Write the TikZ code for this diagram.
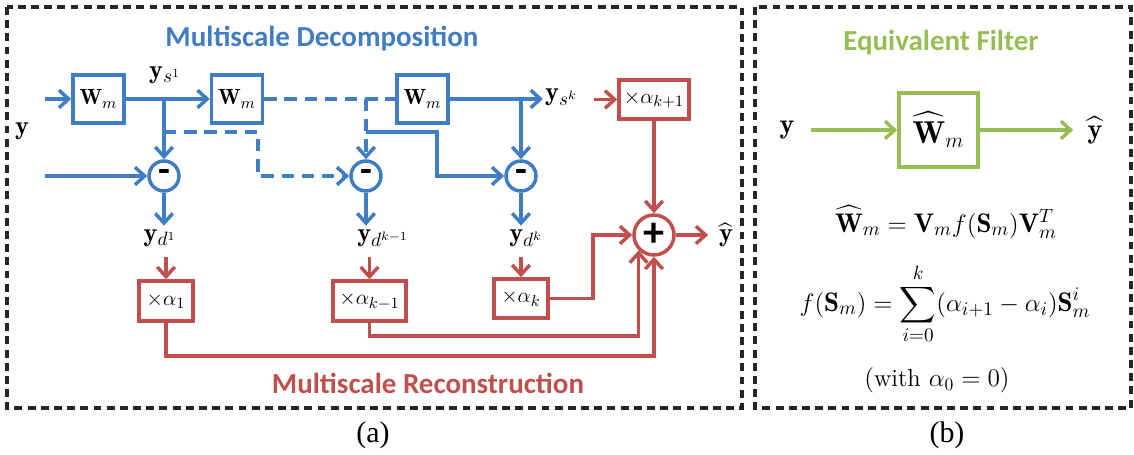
\documentclass[tikz,border=0pt]{standalone}
\usepackage{amsmath}
\usepackage{fontspec}
\newfontfamily\titlefont{Carlito}
\newfontfamily\capfont{Liberation Serif}
\usepackage{tikz}
\usetikzlibrary{arrows.meta}
\definecolor{msblue}{RGB}{65,125,195}
\definecolor{msred}{RGB}{192,80,77}
\definecolor{msgreen}{RGB}{150,190,85}

\begin{document}
\begin{tikzpicture}[x=0.02cm, y=-0.02cm,
  every node/.style={inner sep=2pt},
  bwire/.style={draw=msblue, line width=2pt},
  rwire/.style={draw=msred, line width=2pt},
  gwire/.style={draw=msgreen, line width=2pt},
  arr/.style={-{Straight Barb[length=5.5pt,width=10pt]}},
  dashedwire/.style={dash pattern=on 7pt off 4.5pt},
  panel/.style={draw=black!85, line width=1.9pt, dash pattern=on 4.5pt off 3pt},
  heading/.style={font=\titlefont\bfseries\fontsize{16.5}{19}\selectfont},
  lbl/.style={font=\fontsize{15}{17}\selectfont},
  wbox/.style={draw=msblue, line width=2pt, minimum width=1.02cm, minimum height=0.96cm, inner sep=0pt, font=\fontsize{12.5}{15}\selectfont},
  abox/.style={draw=msred, line width=2pt, minimum height=0.8cm, inner sep=0pt, font=\fontsize{13}{15}\selectfont},
  diffnode/.style={circle, draw=msblue, line width=2pt, minimum size=0.6cm, inner sep=0pt, font=\titlefont\bfseries\fontsize{22}{22}\selectfont},
  sumnode/.style={circle, draw=msred, line width=2pt, minimum size=0.8cm, inner sep=0pt, font=\titlefont\bfseries\fontsize{24}{24}\selectfont},
  gbox/.style={draw=msgreen, line width=2pt, minimum width=1.58cm, minimum height=1.48cm, inner sep=0pt, font=\fontsize{18}{20}\selectfont},
  eqn/.style={font=\fontsize{15.3}{18}\selectfont},
  subcap/.style={font=\capfont\fontsize{17}{19}\selectfont}]
  \useasboundingbox (0,0) rectangle (1134,455);

  % the two panels
  \draw[panel] (7,7) rectangle (742,408);
  \draw[panel] (755,7) rectangle (1131,408);
  \node[subcap] (capa) at (373,435) {(a)};
  \node[subcap] (capb) at (947,435) {(b)};

  % (a) decomposition
  \node[heading, text=msblue] (dectitle) at (322,39) {Multiscale Decomposition};
  \node[lbl] (yin) at (22,131) {$\mathbf{y}$};
  \coordinate (in1) at (45,99);
  \coordinate (in2) at (45,176);
  \node[wbox] (W1) at (98.5,99) {$\mathbf{W}_m$};
  \node[wbox] (W2) at (237,99) {$\mathbf{W}_m$};
  \node[wbox] (W3) at (422.5,99) {$\mathbf{W}_m$};
  \node[lbl] (ys1) at (165,75) {$\mathbf{y}_{s^1}$};
  \node[lbl, anchor=west, inner sep=1pt] (ysk) at (543,97) {$\mathbf{y}_{s^k}$};
  \node[diffnode] (C1) at (164,176) {-};
  \node[diffnode] (C2) at (366,176) {-};
  \node[diffnode] (C3) at (521,176) {-};
  \node[lbl] (yd1) at (160,238) {$\mathbf{y}_{d^1}$};
  \node[lbl] (ydk1) at (383,238) {$\mathbf{y}_{d^{k-1}}$};
  \node[lbl] (ydk) at (526,238) {$\mathbf{y}_{d^k}$};
  \coordinate (tap1) at (164,132);
  \coordinate (tap2) at (366,132);

  \draw[bwire, arr] (in1) -- (W1);
  \draw[bwire, arr] (W1) -- (W2);
  \draw[bwire, dashedwire] (W2) -- (W3);
  \draw[bwire, arr] (W3.east) -- (ysk.west |- W3.east);
  \draw[bwire, arr] (in2) -- (C1);
  \draw[bwire, arr] (C1 |- W1) -- (C1);
  \draw[bwire, dashedwire, arr] (tap1) -- ++(94,0) |- (C2);
  \draw[bwire, dashedwire, arr] (C2 |- W2) -- (C2);
  \draw[bwire, arr] (tap2) -- ++(71,0) |- (C3);
  \draw[bwire, arr] (C3 |- W3) -- (C3);

  % (a) reconstruction
  \node[heading, text=msred] (rectitle) at (428,383) {Multiscale Reconstruction};
  \node[abox, minimum width=1.08cm] (A1) at (166,301) {$\times\alpha_1$};
  \node[abox, minimum width=1.46cm] (A2) at (369.5,301) {$\times\alpha_{k-1}$};
  \node[abox, minimum width=1.08cm, minimum height=0.78cm] (A3) at (521,298.5) {$\times\alpha_k$};
  \node[abox, minimum width=1.4cm, minimum height=0.78cm] (A4) at (654,99.5) {$\times\alpha_{k+1}$};
  \node[sumnode] (P) at (654,235) {+};
  \node[lbl, inner xsep=6pt] (yhat) at (726,235) {$\widehat{\mathbf{y}}$};

  \foreach \c/\l/\a in {C1/yd1/A1, C2/ydk1/A2, C3/ydk/A3} {
    \draw[bwire, arr] (\c.south) -- (\c.south |- \l.north);
    \draw[rwire, arr, shorten <=4pt] (\a.north |- \l.south) -- (\a.north);
  }
  \draw[rwire, arr, shorten <=8pt] (ysk.east |- A4.west) -- (A4.west);
  \draw[rwire, arr] (A4) -- (P);
  \draw[rwire, arr] (A3.east) -- ++(43,0) |- (P);
  \draw[rwire, arr] (A2.south) -- ++(0,13) -| (P.south west);
  \draw[rwire, arr] (A1.south) -- ++(0,33) -| (P.south);
  \draw[rwire, arr] (P) -- (yhat);

  % (b) equivalent filter
  \node[heading, text=msgreen] (eqtitle) at (941,43) {Equivalent Filter};
  \node[lbl, font=\fontsize{16}{18}\selectfont, inner xsep=9pt] (yb) at (787,130) {$\mathbf{y}$};
  \node[gbox] (G) at (938.5,130) {$\widehat{\mathbf{W}}_m$};
  \node[lbl, font=\fontsize{16}{18}\selectfont, inner xsep=8pt] (yhb) at (1095,130) {$\widehat{\mathbf{y}}$};
  \draw[gwire, arr] (yb) -- (G);
  \draw[gwire, arr] (G) -- (yhb);
  \node[eqn] (eq1) at (946,222) {$\widehat{\mathbf{W}}_m = \mathbf{V}_m f(\mathbf{S}_m)\mathbf{V}_m^T$};
  \node[eqn] (eq2) at (945,304) {$\displaystyle f(\mathbf{S}_m) = \sum_{i=0}^{k} (\alpha_{i+1}-\alpha_i)\mathbf{S}_m^i$};
  \node[eqn, font=\fontsize{14}{16}\selectfont] (eq3) at (937,380) {$(\mathrm{with}\ \alpha_0 = 0)$};
\end{tikzpicture}
\end{document}
